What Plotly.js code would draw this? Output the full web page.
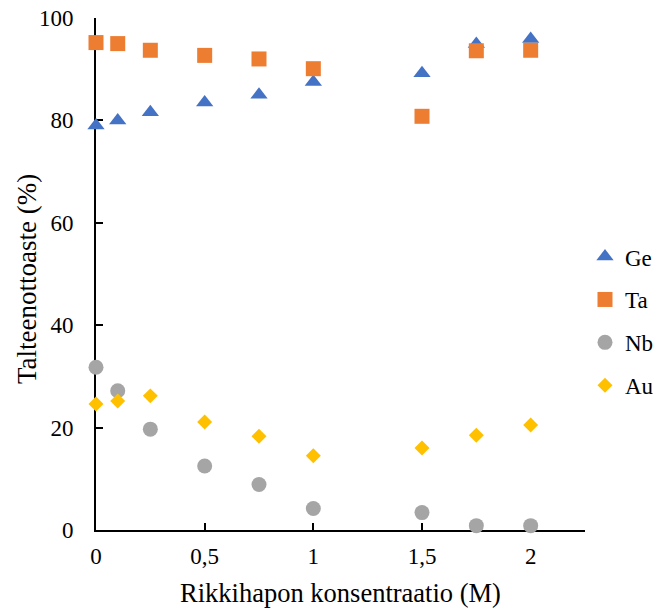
<!DOCTYPE html>
<html>
<head>
<meta charset="utf-8">
<script src="https://cdn.plot.ly/plotly-3.0.1.min.js"></script>
<style>html,body{margin:0;padding:0;background:#fff;}</style>
</head>
<body>
<div id="chart" style="width:654px;height:612px;"></div>
<script>
const concentrations = [0, 0.1, 0.25, 0.5, 0.75, 1, 1.5, 1.75, 2];
const ge = [79.0, 80.0, 81.6, 83.5, 85.0, 87.5, 89.2, 94.9, 95.9];
const ta = [95.2, 95.0, 93.7, 92.7, 92.0, 90.1, 80.8, 93.6, 93.7];
const nb = [31.8, 27.2, 19.7, 12.5, 8.9, 4.2, 3.4, 0.85, 0.85];
const au = [24.6, 25.2, 26.2, 21.1, 18.3, 14.5, 16.0, 18.5, 20.5];
const xTicks = [0, 0.5, 1, 1.5, 2];
const xTickLabels = ['0', '0,5', '1', '1,5', '2'];
const yTicks = [0, 20, 40, 60, 80, 100];
const xTitle = 'Rikkihapon konsentraatio (M)';
const yTitle = 'Talteenottoaste (%)';

const seriesNames = ['Ge', 'Ta', 'Nb', 'Au'];
const seriesValues = [ge, ta, nb, au];
const seriesColors = ['#4472C4', '#ED7D31', '#A5A5A5', '#FFC000'];
const seriesSymbols = ['triangle-up', 'square', 'circle', 'diamond'];
const seriesSizes = [15, 15, 15, 11.5];

const traces = seriesNames.map((name, i) => ({
  type: 'scatter',
  mode: 'markers',
  name: name,
  x: concentrations,
  y: seriesValues[i],
  legendgroup: name,
  cliponaxis: false,
  marker: {color: seriesColors[i], symbol: seriesSymbols[i], size: seriesSizes[i], line: {width: 0}}
}));

const font = "'Liberation Serif', 'Times New Roman', serif";
const layout = {
  width: 654,
  height: 612,
  margin: {l: 96, r: 69, t: 18, b: 82, autoexpand: false},
  paper_bgcolor: '#fff',
  plot_bgcolor: '#fff',
  separators: ',.',
  font: {family: font, size: 22, color: '#000'},
  showlegend: true,
  legend: {
    x: 1.0, xanchor: 'left', y: 0.408, yanchor: 'middle',
    font: {family: font, size: 23, color: '#000'},
    tracegroupgap: 10,
    traceorder: 'grouped',
    itemsizing: 'trace',
    borderwidth: 0,
    bgcolor: 'rgba(0,0,0,0)'
  },
  xaxis: {
    range: [0, 2.25],
    tickvals: xTicks,
    ticktext: xTickLabels,
    ticks: 'inside',
    ticklen: 7,
    tickwidth: 2,
    tickcolor: '#000',
    showline: true,
    linecolor: '#000',
    linewidth: 2,
    layer: 'below traces',
    showgrid: false,
    zeroline: false,
    ticklabelstandoff: 4,
    tickfont: {family: font, size: 23, color: '#000'},
    title: {text: xTitle, font: {family: font, size: 26.5, color: '#000'}, standoff: 16}
  },
  yaxis: {
    range: [0, 100],
    tickvals: yTicks,
    ticks: 'inside',
    ticklen: 7,
    tickwidth: 2,
    tickcolor: '#000',
    showline: true,
    linecolor: '#000',
    linewidth: 2,
    layer: 'below traces',
    showgrid: false,
    zeroline: false,
    ticklabelstandoff: 16,
    tickfont: {family: font, size: 23, color: '#000'}
  },
  annotations: [{
    text: yTitle,
    xref: 'paper', yref: 'paper',
    x: 0, y: 0.49,
    xanchor: 'center', yanchor: 'middle',
    xshift: -69,
    textangle: -90,
    showarrow: false,
    font: {family: font, size: 27, color: '#000'}
  }]
};

Plotly.newPlot('chart', traces, layout, {displayModeBar: false, staticPlot: true});
</script>
</body>
</html>
